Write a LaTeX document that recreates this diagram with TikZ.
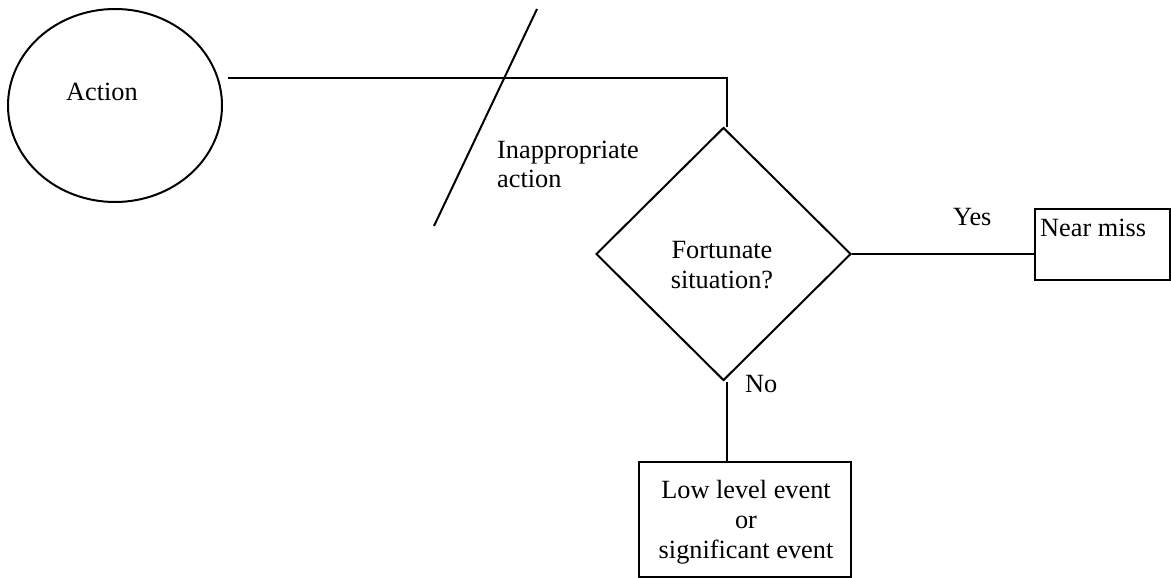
\documentclass[tikz,border=0pt]{standalone}
\usepackage{fontspec}
\setmainfont{Liberation Serif}
\usetikzlibrary{shapes.geometric}
\begin{document}
\begin{tikzpicture}[x=1pt,y=-1pt,
  every node/.style={font=\fontsize{26.3}{30}\selectfont},
  outline/.style={draw,line width=2pt,inner sep=0pt},
  link/.style={line width=2pt},
  caption/.style={inner sep=0pt,anchor=base west,align=left},
  centred/.style={inner sep=0pt,anchor=base,align=center}]
\useasboundingbox (0,0) rectangle (1171,578);

% shapes
\node[outline,ellipse,minimum width=214,minimum height=193] (act) at (115,105.5) {};
\node[caption] (acttxt) at (66,100) {Action};

\node[outline,diamond,minimum width=255,minimum height=253] (dec) at (723.5,254) {};
\node[centred] (dectxt) at (722,288) {Fortunate\\situation?};

\node[outline,rectangle,minimum width=135,minimum height=71] (near) at (1102.5,244.5) {};
\node[caption] (neartxt) at (1040,236) {Near miss};

\node[outline,rectangle,minimum width=212,minimum height=115] (low) at (745,519.5) {};
\node[centred] (lowtxt) at (746,558) {Low level event\\or\\significant event};

% connectors
\coordinate (start) at (228,78);
\draw[link] (start) -| ([xshift=3]dec.north);
\draw[link] (dec.east) -- (dec.east -| near.west);
\draw[link] ([xshift=3]dec.south) -- ([xshift=3]dec.south |- low.north);

% slash across the action line
\coordinate (slashtop) at (537,9);
\coordinate (slashbot) at (434,226);
\draw[link] (slashtop) -- (slashbot);

% labels
\node[caption,font=\fontsize{26.3}{29}\selectfont] (inapp) at (497,187) {Inappropriate\\action};
\node[caption] (yes) at (953,225) {Yes};
\node[caption] (no) at (745,392) {No};
\end{tikzpicture}
\end{document}
